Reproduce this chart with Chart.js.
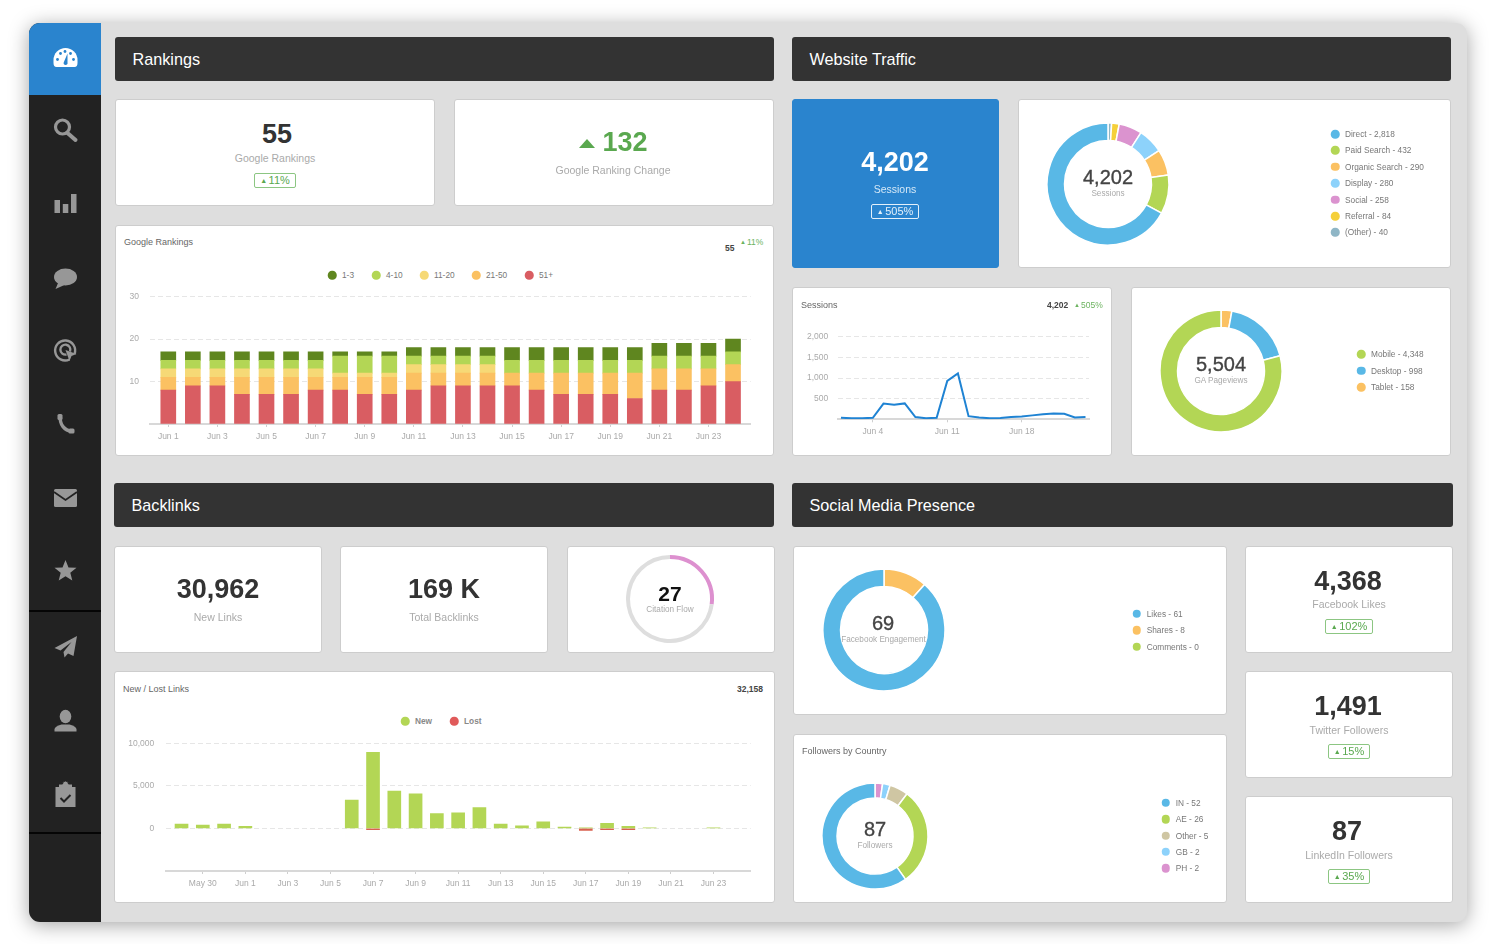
<!DOCTYPE html>
<html>
<head>
<meta charset="utf-8">
<title>Dashboard</title>
<script src="https://cdn.jsdelivr.net/npm/chart.js@4/dist/chart.umd.min.js"></script>
<style>
html, body { margin: 0; padding: 0; background: #fff; }
body { position: relative; width: 1500px; height: 944px; overflow: hidden; font-family: "Liberation Sans", Arial, sans-serif; }
#win { position: absolute; left: 0; top: 0; width: 1500px; height: 944px; filter: blur(0.35px); }
#frame { position: absolute; left: 29px; top: 23px; width: 1438px; height: 899px; background: #dedede; border-radius: 11px; box-shadow: 0 3px 20px rgba(0,0,0,.36); overflow: hidden; }
#side { position: absolute; left: 0; top: 0; width: 72px; height: 899px; background: #222; }
#side_top { position: absolute; left: 0; top: 0; width: 72px; height: 72px; background: #2a84ce; }
.sep { position: absolute; left: 0; width: 72px; height: 1.5px; background: #050505; }
.box { position: absolute; box-sizing: border-box; background: #fff; border: 1px solid #cdcdcd; border-radius: 3px; }
.head { position: absolute; box-sizing: border-box; background: #333; border-radius: 3px; color: #fff; font-size: 16.2px; line-height: 44px; padding-left: 17.5px; }
.blue { background: #2a84ce; border-color: #2a84ce; }
.t { position: absolute; white-space: nowrap; transform: translate(-50%, -50%); line-height: 1; }
.kpi { font-size: 27px; font-weight: bold; color: #333; }
.sub { font-size: 10.5px; color: #aaa; }
.mid { font-size: 20px; color: #444; -webkit-text-stroke: 0.35px #444; }
.small { font-size: 8.2px; color: #aaa; }
.title { font-size: 9px; color: #666; transform: translate(0, -50%); }
.num { font-size: 8.5px; font-weight: bold; color: #444; transform: translate(0, -50%); }
.up { font-size: 8.5px; color: #6cb35f; transform: translate(0, -50%); }
.badge { position: absolute; box-sizing: border-box; border: 1px solid #8cc682; border-radius: 2px; color: #5aa84f; font-size: 11px; text-align: center; line-height: 13px; }
.tri { font-size: 7px; vertical-align: 1px; margin-right: 1.5px; }
.tri_big { position: absolute; width: 0; height: 0; border-left: 8px solid transparent; border-right: 8px solid transparent; border-bottom: 9px solid #5aa84f; }
.dot { position: absolute; width: 8.5px; height: 8.5px; border-radius: 50%; transform: translate(-50%, -50%); }
.lab { position: absolute; white-space: nowrap; font-size: 8.3px; color: #777; line-height: 1; transform: translate(0, -50%); }
.lab_b { font-weight: bold; color: #888; }
canvas { position: absolute; }
svg { position: absolute; left: 0; top: 0; }
</style>
</head>
<body>
<div id="win">
  <div id="frame">
    <div id="side">
      <div id="side_top"></div>
      <div class="sep" style="top:587px"></div>
      <div class="sep" style="top:809px"></div>
    </div>
  </div>
  <svg width="1500" height="944" fill="#979797" id="icons">
    <g transform="translate(65.5,57.5)" fill="#fff">
      <path d="M-12 2.5 a12 12 0 0 1 24 0 v3 q0 4 -3 4 h-18 q-3 0 -3 -4z"/>
      <g fill="#2a84ce">
        <circle cx="-8" cy="2" r="1.4"/><circle cx="-5" cy="-4" r="1.4"/><circle cx="-0.5" cy="-6" r="1.4"/>
        <circle cx="8" cy="2" r="1.4"/><circle cx="5" cy="-4" r="1.4"/>
        <path d="M-1.8 5 L2 -4 L2 5 a2 2 0 1 1 -3.8 0z"/>
      </g>
    </g>
    <g transform="translate(65.5,130)">
      <circle cx="-3" cy="-3" r="7" fill="none" stroke="#979797" stroke-width="3.2"/>
      <path d="M2 3 L10 10" stroke="#979797" stroke-width="4" stroke-linecap="round"/>
    </g>
    <g transform="translate(65.5,204)">
      <rect x="-11" y="-4" width="5.5" height="13"/><rect x="-2.7" y="0" width="5.5" height="9"/><rect x="5.5" y="-10" width="5.5" height="19"/>
    </g>
    <g transform="translate(65.5,278)">
      <ellipse cx="0" cy="-1" rx="11.5" ry="8.5"/><path d="M-7 4 L-10 11 L-1 7z"/>
    </g>
    <g transform="translate(65.5,350)" fill="none" stroke="#979797" stroke-width="2.4">
      <path d="M9 4 A10 10 0 1 0 4 9.5"/><path d="M4.5 1.5 A5 5 0 1 0 1 4.5"/>
      <path d="M0 0 L11 4 L6 6 L4 11z" fill="#979797" stroke="none"/>
    </g>
    <g transform="translate(65.5,424)">
      <path d="M-5 -7 C-6 0 -1 7 6 7" fill="none" stroke="#979797" stroke-width="3.4"/>
      <rect x="-8" y="-10" width="5" height="6" rx="1.5"/><rect x="3" y="4.5" width="6" height="5" rx="1.5"/>
    </g>
    <g transform="translate(65.5,498)">
      <rect x="-11.5" y="-9" width="23" height="18" rx="1.5"/>
      <path d="M-11.5 -6 L0 2 L11.5 -6" fill="none" stroke="#222" stroke-width="1.8"/>
    </g>
    <path transform="translate(65.5,571)" d="M0 -11 L3 -3.5 L11 -3.2 L4.8 1.8 L6.8 9.5 L0 5.2 L-6.8 9.5 L-4.8 1.8 L-11 -3.2 L-3 -3.5z"/>
    <path transform="translate(65.5,647)" d="M11.5 -11 L-11 1 L-5 3.5 L6 -5 L-2 5 L-1 10.5 L2.5 6.5 L8 9z"/>
    <g transform="translate(65.5,721)">
      <ellipse cx="0" cy="-4.5" rx="5.8" ry="6.8"/><path d="M-11 10.5 v-2 q0 -3 7 -5 h8 q7 2 7 5 v2z"/>
    </g>
    <g transform="translate(65.5,795)">
      <rect x="-10" y="-8" width="20" height="20"/>
      <path d="M-7 -8 v-3 h4 a3 3 0 0 1 6 0 h4 v3" fill="#979797" stroke="#222" stroke-width="1"/>
      <path d="M-5 3 L-1.5 6.5 L5 0" fill="none" stroke="#222" stroke-width="2"/>
    </g>
  </svg>
</div>
<script>
// values
var rank_days = ['Jun 1','Jun 2','Jun 3','Jun 4','Jun 5','Jun 6','Jun 7','Jun 8','Jun 9','Jun 10','Jun 11','Jun 12','Jun 13','Jun 14','Jun 15','Jun 16','Jun 17','Jun 18','Jun 19','Jun 20','Jun 21','Jun 22','Jun 23','Jun 24'];
var rank_ticks = ['Jun 1','Jun 3','Jun 5','Jun 7','Jun 9','Jun 11','Jun 13','Jun 15','Jun 17','Jun 19','Jun 21','Jun 23'];
var rank_51 =    [8,9,9,7,7,7,8,8,7,7,8,9,9,9,9,8,7,7,7,6,8,8,9,10];
var rank_21_50 = [3,2,2,4,4,4,3,3,4,4,4,3,3,3,3,4,5,5,5,6,5,5,4,4];
var rank_11_20 = [2,2,2,2,2,2,2,1,1,1,2,2,2,2,0,0,0,0,0,0,0,0,0,0];
var rank_4_10 =  [2,2,2,2,2,2,2,4,4,4,2,2,2,2,3,3,3,3,3,3,3,3,3,3];
var rank_1_3 =   [2,2,2,2,2,2,2,1,1,1,2,2,2,2,3,3,3,3,3,3,3,3,3,3];

var sess_days = rank_days;
var sess_ticks = ['Jun 4','Jun 11','Jun 18'];
var sess_values = [40,25,25,35,380,355,385,55,25,35,930,1110,75,45,25,30,55,70,95,125,140,135,45,55];

var link_days = ['May 29','May 30','May 31','Jun 1','Jun 2','Jun 3','Jun 4','Jun 5','Jun 6','Jun 7','Jun 8','Jun 9','Jun 10','Jun 11','Jun 12','Jun 13','Jun 14','Jun 15','Jun 16','Jun 17','Jun 18','Jun 19','Jun 20','Jun 21','Jun 22','Jun 23','Jun 24'];
var link_ticks = ['May 30','Jun 1','Jun 3','Jun 5','Jun 7','Jun 9','Jun 11','Jun 13','Jun 15','Jun 17','Jun 19','Jun 21','Jun 23'];
var link_new =  [500,400,500,240,0,0,0,0,3335,8930,4400,4050,1750,1830,2460,520,320,790,160,80,600,240,60,0,0,60,0];
var link_lost = [0,0,0,0,0,0,0,0,0,-150,0,0,0,0,0,0,0,0,0,-220,-150,-150,0,0,0,0,0];

var traffic_names = ['Direct','Paid Search','Organic Search','Display','Social','Referral','(Other)'];
var traffic_values = [2818,432,290,280,258,84,40];
var traffic_colors = ['#59b8e6','#b3d655','#fbc162','#8dd2fb','#db93cf','#f5d03a','#8fb6c6'];

var view_names = ['Mobile','Desktop','Tablet'];
var view_values = [4348,998,158];
var view_colors = ['#b3d655','#59b8e6','#fbc162'];

var fb_names = ['Likes','Shares','Comments'];
var fb_values = [61,8,0];
var fb_colors = ['#59b8e6','#fbc162','#b3d655'];

var country_names = ['IN','AE','Other','GB','PH'];
var country_values = [52,26,5,2,2];
var country_colors = ['#59b8e6','#b3d655','#cfc6a3','#8dd2fb','#db93cf'];

var citation_values = [27,73];
var citation_colors = ['#dd90cf','#dedede'];

var win = document.getElementById('win');
var icons = document.getElementById('icons');

function el(cls, style, text) {
  var d = document.createElement('div');
  d.className = cls;
  d.style.cssText = style;
  if(text !== undefined) { d.textContent = text; }
  win.insertBefore(d, icons);
  return d;
}
function box(x0, y0, x1, y1, extra) {
  return el('box ' + (extra || ''), 'left:'+x0+'px;top:'+y0+'px;width:'+(x1-x0)+'px;height:'+(y1-y0)+'px');
}
function head(x0, y0, x1, y1, text) {
  return el('head', 'left:'+x0+'px;top:'+y0+'px;width:'+(x1-x0)+'px;height:'+(y1-y0)+'px', text);
}
function txt(text, x, y, cls, extra) {
  return el('t ' + cls, 'left:'+x+'px;top:'+y+'px;' + (extra || ''), text);
}
function badge(x0, y0, x1, y1, text, color) {
  var b = el('badge', 'left:'+x0+'px;top:'+y0+'px;width:'+(x1-x0)+'px;height:'+(y1-y0)+'px;' + (color ? 'color:'+color+';border-color:'+color : ''));
  b.innerHTML = '<span class="tri">\u25B2</span>' + text;
}
function up(text, x, y) {
  var t = txt('', x, y, 'up');
  t.innerHTML = '<span style="font-size:6px;vertical-align:1px;margin-right:1px">\u25B2</span>' + text;
}
function key(name, color, x, y, bold) {
  el('dot', 'left:'+x+'px;top:'+y+'px;background:'+color);
  el('lab' + (bold ? ' lab_b' : ''), 'left:'+(x+10)+'px;top:'+y+'px', name);
}
function fmt(v) {
  return v.toLocaleString('en-US');
}
function add_canvas(x, y, w, h) {
  var c = document.createElement('canvas');
  c.width = w; c.height = h;
  c.style.left = x + 'px'; c.style.top = y + 'px';
  win.insertBefore(c, icons);
  return c;
}

// doughnut, drawn clockwise from the top in reverse legend order
function donut(cx, cy, r, inner, values, colors, gap) {
  var size = 2 * r + 8;
  var c = add_canvas(cx - size/2, cy - size/2, size, size);
  return new Chart(c, {
    type: 'doughnut',
    data: { datasets: [{
      data: values.slice().reverse(),
      backgroundColor: colors.slice().reverse(),
      borderColor: '#fff',
      borderWidth: gap
    }] },
    options: {
      responsive: false,
      animation: false,
      radius: r,
      cutout: (inner / r * 100) + '%',
      plugins: { legend: { display: false }, tooltip: { enabled: false } }
    }
  });
}

function tick_list(days, labels) {
  return labels.map(function(l) { return { value: days.indexOf(l) }; });
}
// zero days have no mark in the picture
function points(values) {
  return values.map(function(v, i) { return { x: i, y: v }; }).filter(function(p) { return p.y !== 0; });
}
// axis options shared by the three cartesian charts
function x_axis(days, labels, min, max, h) {
  return {
    type: 'linear', min: min, max: max, stacked: true, bounds: 'data', offset: false,
    afterBuildTicks: function(s) { s.ticks = tick_list(days, labels); },
    afterFit: function(s) { s.height = h; },
    grid: { offset: false, drawOnChartArea: false, drawTicks: true, tickLength: 3, color: '#cfcfcf' },
    border: { color: '#d8d8d8', width: 2 },
    ticks: {
      autoSkip: false, maxRotation: 0, padding: 4.5,
      font: { family: 'Liberation Sans', size: 8.5 }, color: '#aaa',
      callback: function(v) { return days[v]; }
    }
  };
}
function y_axis(min, max, step, w, pad, hide) {
  return {
    min: min, max: max, stacked: true,
    afterFit: function(s) { s.width = w; },
    grid: { color: '#e6e6e6', drawTicks: false, lineWidth: 1 },
    border: { display: false, dash: [5, 3] },
    ticks: {
      stepSize: step, padding: pad,
      font: { family: 'Liberation Sans', size: 8.5 }, color: '#aaa',
      callback: function(v) { return hide(v) ? '' : fmt(v); }
    }
  };
}
function bar_set(label, values, color, thick) {
  return { label: label, data: points(values), backgroundColor: color, barThickness: thick };
}
var no_plugins = { legend: { display: false }, tooltip: { enabled: false } };

// ---- Rankings
head(115, 37, 774, 81, 'Rankings');
box(115, 99, 435, 206);
txt('55', 277, 134, 'kpi');
txt('Google Rankings', 275, 158, 'sub');
badge(254, 173, 296, 187.5, '11%');
box(454, 99, 774, 206);
el('tri_big', 'left:579px;top:139px');
txt('132', 625, 142, 'kpi', 'color:#5aa84f');
txt('Google Ranking Change', 613, 170, 'sub');

box(115, 225, 774, 456);
txt('Google Rankings', 124, 242, 'title');
txt('55', 725, 248, 'num');
up('11%', 740, 242);
var rank_keys = ['1-3','4-10','11-20','21-50','51+'];
var rank_colors = ['#5f861f','#b3d655','#f6d976','#fbc162','#d95d62'];
var rank_key_x = [332,376,424,476,529];
rank_keys.forEach(function(k, i) { key(k, rank_colors[i], rank_key_x[i], 275); });

new Chart(add_canvas(115, 225, 659, 231), {
  type: 'bar',
  data: { datasets: [
    bar_set('51+', rank_51, rank_colors[4], 15),
    bar_set('21-50', rank_21_50, rank_colors[3], 15),
    bar_set('11-20', rank_11_20, rank_colors[2], 15),
    bar_set('4-10', rank_4_10, rank_colors[1], 15),
    bar_set('1-3', rank_1_3, rank_colors[0], 15)
  ] },
  options: {
    responsive: false,
    animation: false,
    layout: { padding: { top: 71.7, right: 23.3, left: 0, bottom: 0 } },
    scales: {
      x: x_axis(rank_days, rank_ticks, -0.745, 23.72, 32),
      y: y_axis(0, 30, 10, 35, 11, function(v) { return v === 0; })
    },
    plugins: no_plugins
  }
});

// ---- Website Traffic
head(792, 37, 1451, 81, 'Website Traffic');
box(792, 99, 999, 268, 'blue');
txt('4,202', 895, 162, 'kpi', 'color:#fff');
txt('Sessions', 895, 189, 'sub', 'color:#d4e8f7');
badge(871, 204, 919, 218.5, '505%', '#e3f0fa');
box(1018, 99, 1451, 268);
donut(1108, 183.5, 61, 43.5, traffic_values, traffic_colors, 1.5);
txt('4,202', 1108, 177, 'mid');
txt('Sessions', 1108, 194, 'small');
traffic_names.forEach(function(n, i) {
  key(n + ' - ' + fmt(traffic_values[i]), traffic_colors[i], 1335, 134 + i * 16.4);
});

box(792, 287, 1112, 456);
txt('Sessions', 801, 305, 'title');
txt('4,202', 1047, 305, 'num');
up('505%', 1074, 305);
new Chart(add_canvas(792, 287, 320, 169), {
  type: 'line',
  data: { datasets: [{
    label: 'Sessions',
    data: points(sess_values),
    borderColor: '#1f83d3',
    borderWidth: 2,
    pointRadius: 0,
    fill: false,
    tension: 0
  }] },
  options: {
    responsive: false,
    animation: false,
    layout: { padding: { top: 49.7, right: 23, left: 0, bottom: 0 } },
    scales: {
      x: x_axis(sess_days, sess_ticks, -0.25, 23.33, 36.7),
      y: y_axis(0, 2000, 500, 46.3, 10, function(v) { return v === 0; })
    },
    plugins: no_plugins
  }
});

box(1131, 287, 1451, 456);
donut(1221, 371, 61, 43.5, view_values, view_colors, 1.5);
txt('5,504', 1221, 364, 'mid');
txt('GA Pageviews', 1221, 381, 'small');
view_names.forEach(function(n, i) {
  key(n + ' - ' + fmt(view_values[i]), view_colors[i], 1361, 354 + i * 16.5);
});

// ---- Backlinks
head(114, 483, 774, 527, 'Backlinks');
box(114, 546, 322, 653);
txt('30,962', 218, 589, 'kpi');
txt('New Links', 218, 617, 'sub');
box(340, 546, 548, 653);
txt('169 K', 444, 589, 'kpi');
txt('Total Backlinks', 444, 617, 'sub');
box(567, 546, 775, 653);
donut(670, 598.7, 44, 40, citation_values.slice().reverse(), citation_colors.slice().reverse(), 0);
txt('27', 670, 593, 'mid', 'font-weight:bold;color:#111;font-size:21px;-webkit-text-stroke:0');
txt('Citation Flow', 670, 610, 'small');

box(114, 671, 775, 903);
txt('New / Lost Links', 123, 689, 'title');
txt('32,158', 737, 689, 'num');
key('New', '#b3d655', 405, 721, true);
key('Lost', '#e05a5a', 454, 721, true);
new Chart(add_canvas(114, 671, 661, 232), {
  type: 'bar',
  data: { datasets: [
    bar_set('New', link_new, '#b3d655', 13),
    bar_set('Lost', link_lost, '#d9604f', 13)
  ] },
  options: {
    responsive: false,
    animation: false,
    layout: { padding: { top: 72.3, right: 24.3, left: 0, bottom: 0 } },
    scales: {
      x: x_axis(link_days, link_ticks, -0.73, 26.75, 32),
      y: y_axis(-5000, 10000, 5000, 52, 11.7, function(v) { return v < 0; })
    },
    plugins: no_plugins
  }
});

// ---- Social Media Presence
head(792, 483, 1453, 527, 'Social Media Presence');
box(793, 546, 1227, 715);
donut(883.5, 630, 61, 43.5, fb_values, fb_colors, 1.5);
txt('69', 883, 623, 'mid');
txt('Facebook Engagement', 883.5, 640, 'small', 'width:84px;overflow:hidden;display:flex;justify-content:center');
fb_names.forEach(function(n, i) {
  key(n + ' - ' + fmt(fb_values[i]), fb_colors[i], 1136.7, 613.5 + i * 16.5);
});

box(793, 734, 1227, 903);
txt('Followers by Country', 802, 751, 'title');
donut(875, 835.7, 53, 38, country_values, country_colors, 1.5);
txt('87', 875, 829, 'mid');
txt('Followers', 875, 846, 'small');
country_names.forEach(function(n, i) {
  key(n + ' - ' + fmt(country_values[i]), country_colors[i], 1165.7, 802.7 + i * 16.4);
});

box(1245, 546, 1453, 653);
txt('4,368', 1348, 581, 'kpi');
txt('Facebook Likes', 1349, 604, 'sub');
badge(1325, 619, 1373, 634, '102%');
box(1245, 671, 1453, 778);
txt('1,491', 1348, 706, 'kpi');
txt('Twitter Followers', 1349, 730, 'sub');
badge(1328, 744, 1370, 759, '15%');
box(1245, 796, 1453, 903);
txt('87', 1347, 831, 'kpi');
txt('LinkedIn Followers', 1349, 855, 'sub');
badge(1328, 869, 1370, 884, '35%');
</script>
</body>
</html>
